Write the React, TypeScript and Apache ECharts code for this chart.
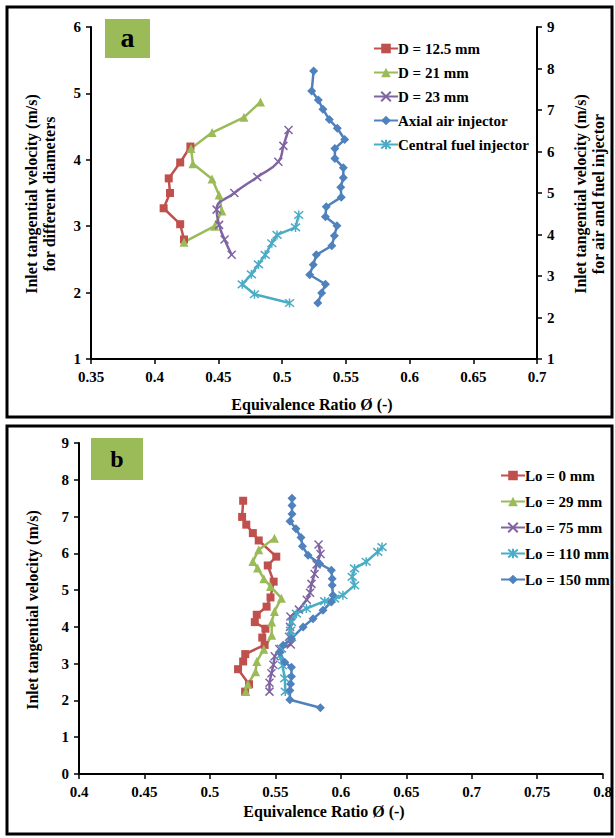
import React, { useEffect, useRef } from "react";
import * as echarts from "echarts";

// ---------- Panel (a) data ----------
const D125_PHI = [0.428, 0.42, 0.411, 0.412, 0.407, 0.42, 0.423];
const D125_V = [4.2, 3.96, 3.72, 3.5, 3.27, 3.03, 2.8];

const D21_PHI = [0.483, 0.47, 0.445, 0.4285, 0.43, 0.445, 0.4505, 0.4527, 0.447, 0.423];
const D21_V = [4.87, 4.64, 4.41, 4.17, 3.94, 3.71, 3.47, 3.23, 3.0, 2.76];

const D23_PHI = [0.505, 0.501, 0.497, 0.4805, 0.4625, 0.4486, 0.4505, 0.4548, 0.4604];
const D23_V = [4.45, 4.21, 3.97, 3.74, 3.5, 3.25, 3.02, 2.8, 2.57];

const AXIAL_PHI = [0.5247, 0.5232, 0.5284, 0.532, 0.537, 0.5433, 0.5491, 0.5414, 0.5414, 0.548, 0.548, 0.546, 0.5464, 0.5346, 0.534, 0.543, 0.541, 0.539, 0.5268, 0.5244, 0.5216, 0.534, 0.531, 0.528];
const AXIAL_V = [7.94, 7.46, 7.24, 7.02, 6.77, 6.56, 6.29, 6.07, 5.83, 5.61, 5.37, 5.14, 4.9, 4.67, 4.43, 4.21, 3.97, 3.73, 3.51, 3.27, 3.03, 2.8, 2.59, 2.35];

const CENTRAL_PHI = [0.513, 0.5105, 0.496, 0.4919, 0.4867, 0.4814, 0.4759, 0.4687, 0.4783, 0.5058];
const CENTRAL_V = [4.47, 4.17, 3.99, 3.79, 3.51, 3.28, 3.04, 2.8, 2.56, 2.35];

// ---------- Panel (b) data ----------
const L0_PHI = [0.5254, 0.5246, 0.5278, 0.5328, 0.5373, 0.5507, 0.5442, 0.5487, 0.5463, 0.5433, 0.5358, 0.5343, 0.5424, 0.54, 0.5418, 0.527, 0.5254, 0.5215, 0.5299, 0.5269];
const L0_V = [7.43, 6.99, 6.78, 6.55, 6.35, 5.91, 5.67, 5.23, 4.8, 4.55, 4.33, 4.13, 3.95, 3.71, 3.51, 3.26, 3.06, 2.85, 2.44, 2.24];

const L29_PHI = [0.5493, 0.5373, 0.5328, 0.5364, 0.5412, 0.5463, 0.5546, 0.5493, 0.5472, 0.5472, 0.5412, 0.5358, 0.5349, 0.529, 0.5275];
const L29_V = [6.41, 6.1, 5.78, 5.6, 5.31, 5.1, 4.78, 4.42, 4.13, 3.77, 3.39, 3.06, 2.78, 2.44, 2.24];

const L75_PHI = [0.583, 0.5845, 0.5815, 0.58, 0.5776, 0.5765, 0.574, 0.568, 0.5615, 0.5612, 0.5605, 0.5618, 0.553, 0.5495, 0.5485, 0.547, 0.5455, 0.5455];
const L75_V = [6.24, 5.98, 5.7, 5.44, 5.17, 4.93, 4.74, 4.47, 4.28, 4.0, 3.73, 3.52, 3.4, 3.2, 2.97, 2.74, 2.48, 2.24];

const L110_PHI = [0.6315, 0.6282, 0.6194, 0.6105, 0.6087, 0.6105, 0.6016, 0.5953, 0.5877, 0.5737, 0.5661, 0.5623, 0.5616, 0.5623, 0.5547, 0.5534, 0.5555, 0.5572, 0.5576];
const L110_V = [6.17, 6.04, 5.77, 5.59, 5.36, 5.13, 4.86, 4.77, 4.7, 4.5, 4.36, 4.13, 3.9, 3.72, 3.41, 3.22, 2.95, 2.6, 2.24];

const L150_PHI = [0.5627, 0.5627, 0.5627, 0.5612, 0.5657, 0.5696, 0.5707, 0.575, 0.5838, 0.5928, 0.5934, 0.5934, 0.594, 0.5928, 0.5864, 0.5788, 0.5712, 0.5623, 0.556, 0.5534, 0.5572, 0.5623, 0.5623, 0.5616, 0.5611, 0.5611, 0.5844];
const L150_V = [7.5, 7.3, 7.07, 6.87, 6.67, 6.43, 6.19, 5.95, 5.72, 5.54, 5.31, 5.13, 4.86, 4.68, 4.45, 4.22, 4.0, 3.68, 3.5, 3.31, 3.04, 2.9, 2.65, 2.45, 2.27, 2.02, 1.8];

// ---------- Labels ----------
const LEGEND_A = ["D = 12.5 mm", "D = 21 mm", "D = 23 mm", "Axial air injector", "Central fuel injector"];
const LEGEND_B = ["Lo = 0 mm", "Lo = 29 mm", "Lo = 75 mm", "Lo = 110 mm", "Lo = 150 mm"];
const X_TITLE = "Equivalence Ratio Ø (-)";

const RED = "#C0504D";
const GREEN = "#9BBB59";
const PURPLE = "#8064A2";
const CYAN = "#4BACC6";
const BLUE = "#4F81BD";

const X_SYM = "path://M0,0L10,10M10,0L0,10";
const STAR_SYM = "path://M0,0L10,10M10,0L0,10M5,-1L5,11";

const FONT = "'Liberation Serif', 'Times New Roman', serif";

const zip = (a: number[], b: number[]) => a.map((v, i) => [v, b[i]]);

function mkSeries(
  name: string,
  phi: number[],
  v: number[],
  color: string,
  symbol: string,
  size: number,
  xi: number,
  yi: number,
  stroke = false,
  smooth = false
) {
  return {
    name,
    type: "line",
    xAxisIndex: xi,
    yAxisIndex: yi,
    data: zip(phi, v),
    symbol,
    symbolSize: size,
    smooth,
    lineStyle: { color, width: 2.5 },
    itemStyle: stroke
      ? { color, borderColor: color, borderWidth: 1.5 }
      : { color },
    z: 3,
  };
}

const axisLabel = {
  color: "#000",
  fontFamily: FONT,
  fontWeight: "bold",
  fontSize: 15,
};
const axisLine = { show: true, lineStyle: { color: "#000", width: 2 } };
const axisTick = { show: true, length: 5, lineStyle: { color: "#000", width: 1.5 } };

export default function App() {
  const ref = useRef<HTMLDivElement>(null);
  useEffect(() => {
    if (!ref.current) return;
    const chart = echarts.init(ref.current, undefined, { renderer: "svg" });
    const vtext = (x: number, y: number, text: string) => ({
      type: "text",
      x,
      y,
      rotation: Math.PI / 2,
      style: { text, font: "bold 16px " + FONT, fill: "#000", textAlign: "center", textVerticalAlign: "middle" },
    });
    const htext = (x: number, y: number, text: string) => ({
      type: "text",
      x,
      y,
      style: { text, font: "bold 16px " + FONT, fill: "#000", textAlign: "center", textVerticalAlign: "middle" },
    });
    const option: any = {
      animation: false,
      backgroundColor: "#fff",
      grid: [
        { left: 91, top: 27, width: 446, height: 332 },
        { left: 79, top: 443, width: 525, height: 331 },
      ],
      xAxis: [
        {
          gridIndex: 0,
          type: "value",
          min: 0.35,
          max: 0.7,
          interval: 0.05,
          axisLine,
          axisTick,
          axisLabel: { ...axisLabel, margin: 10 },
          splitLine: { show: false },
        },
        {
          gridIndex: 1,
          type: "value",
          min: 0.4,
          max: 0.8,
          interval: 0.05,
          axisLine,
          axisTick,
          axisLabel: { ...axisLabel, margin: 10 },
          splitLine: { show: false },
        },
      ],
      yAxis: [
        {
          gridIndex: 0,
          type: "value",
          position: "left",
          min: 1,
          max: 6,
          interval: 1,
          axisLine,
          axisTick,
          axisLabel: { ...axisLabel, margin: 10 },
          splitLine: { show: false },
        },
        {
          gridIndex: 0,
          type: "value",
          position: "right",
          min: 1,
          max: 9,
          interval: 1,
          axisLine,
          axisTick,
          axisLabel: { ...axisLabel, margin: 10 },
          splitLine: { show: false },
        },
        {
          gridIndex: 1,
          type: "value",
          position: "left",
          min: 0,
          max: 9,
          interval: 1,
          axisLine,
          axisTick,
          axisLabel: { ...axisLabel, margin: 10 },
          splitLine: { show: false },
        },
      ],
      legend: [
        {
          data: LEGEND_A,
          orient: "vertical",
          left: 368,
          top: 36,
          itemWidth: 24,
          itemHeight: 12,
          itemGap: 9,
          textStyle: { color: "#000", fontFamily: FONT, fontWeight: "bold", fontSize: 15, padding: [0, 0, 0, -5] },
        },
        {
          data: LEGEND_B,
          orient: "vertical",
          left: 495,
          top: 463,
          itemWidth: 24,
          itemHeight: 12,
          itemGap: 11,
          textStyle: { color: "#000", fontFamily: FONT, fontWeight: "bold", fontSize: 15, padding: [0, 0, 0, -5] },
        },
      ],
      series: [
        mkSeries(LEGEND_A[0], D125_PHI, D125_V, RED, "rect", 8, 0, 0),
        mkSeries(LEGEND_A[1], D21_PHI, D21_V, GREEN, "triangle", 9, 0, 0),
        mkSeries(LEGEND_A[2], D23_PHI, D23_V, PURPLE, X_SYM, 8, 0, 0, true, true),
        mkSeries(LEGEND_A[3], AXIAL_PHI, AXIAL_V, BLUE, "diamond", 9, 0, 1),
        mkSeries(LEGEND_A[4], CENTRAL_PHI, CENTRAL_V, CYAN, STAR_SYM, 9, 0, 1, true),
        mkSeries(LEGEND_B[0], L0_PHI, L0_V, RED, "rect", 8, 1, 2),
        mkSeries(LEGEND_B[1], L29_PHI, L29_V, GREEN, "triangle", 9, 1, 2),
        mkSeries(LEGEND_B[2], L75_PHI, L75_V, PURPLE, X_SYM, 8, 1, 2, true),
        mkSeries(LEGEND_B[3], L110_PHI, L110_V, CYAN, STAR_SYM, 9, 1, 2, true),
        mkSeries(LEGEND_B[4], L150_PHI, L150_V, BLUE, "diamond", 9, 1, 2),
      ],
      graphic: [
        // panel borders
        { type: "rect", shape: { x: 7, y: 7, width: 605, height: 410 }, style: { fill: "none", stroke: "#000", lineWidth: 3 }, z: 0 },
        { type: "rect", shape: { x: 7, y: 426, width: 605, height: 408 }, style: { fill: "none", stroke: "#000", lineWidth: 3 }, z: 0 },
        // panel letters
        { type: "rect", shape: { x: 105, y: 19, width: 45, height: 39 }, style: { fill: GREEN }, z: 1 },
        { type: "text", x: 127.5, y: 37, style: { text: "a", font: "bold 28px " + FONT, fill: "#000", textAlign: "center", textVerticalAlign: "middle" }, z: 2 },
        { type: "rect", shape: { x: 91, y: 438, width: 52, height: 42 }, style: { fill: GREEN }, z: 1 },
        { type: "text", x: 117, y: 459, style: { text: "b", font: "bold 24px " + FONT, fill: "#000", textAlign: "center", textVerticalAlign: "middle" }, z: 2 },
        // axis titles
        vtext(31, 194, "Inlet tangential velocity (m/s)"),
        vtext(49, 194, "for different diameters"),
        vtext(580, 194, "Inlet tangential velocity (m/s)"),
        vtext(598, 194, "for air and fuel injector"),
        htext(312, 404, X_TITLE),
        vtext(32, 610, "Inlet tangential velocity (m/s)"),
        htext(324, 811, X_TITLE),
      ],
    };
    chart.setOption(option);
    return () => chart.dispose();
  }, []);
  return (
    <div
      ref={ref}
      style={{ position: "absolute", left: 0, top: 0, width: 615, height: 838 }}
    />
  );
}
